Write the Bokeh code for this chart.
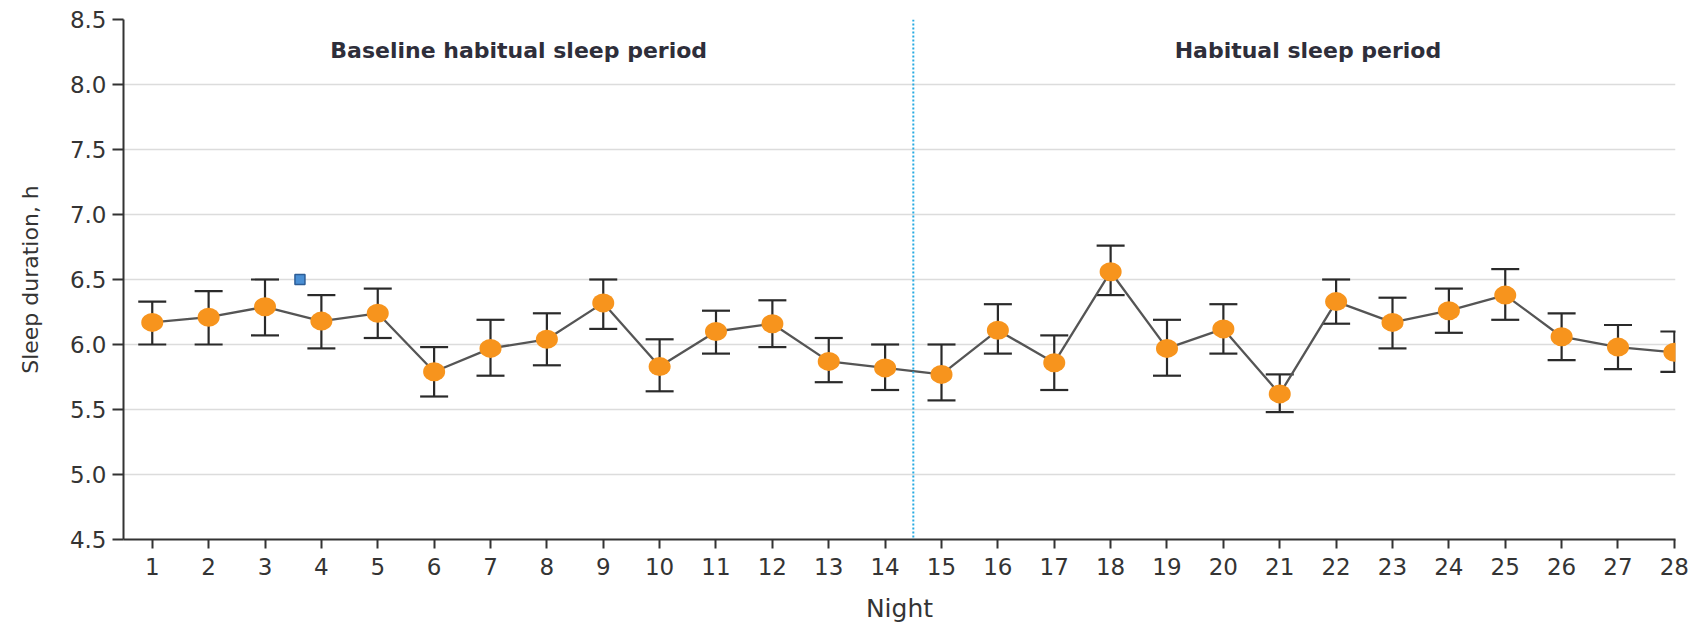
from bokeh.plotting import figure
from bokeh.models import (Whisker, TeeHead, ColumnDataSource, Span, FixedTicker,
                          Range1d, CustomJSTickFormatter)
from bokeh.core.properties import value
from bokeh.embed import file_html
from bokeh.resources import INLINE

# ---- data ----
nights = list(range(1, 29))
sleep_mean = [6.17, 6.21, 6.29, 6.18, 6.24, 5.79, 5.97, 6.04, 6.32, 5.83,
              6.10, 6.16, 5.87, 5.82, 5.77, 6.11, 5.86, 6.56, 5.97, 6.12,
              5.62, 6.33, 6.17, 6.26, 6.38, 6.06, 5.98, 5.94]
ci_lower = [6.00, 6.00, 6.07, 5.97, 6.05, 5.60, 5.76, 5.84, 6.12, 5.64,
            5.93, 5.98, 5.71, 5.65, 5.57, 5.93, 5.65, 6.38, 5.76, 5.93,
            5.48, 6.16, 5.97, 6.09, 6.19, 5.88, 5.81, 5.79]
ci_upper = [6.33, 6.41, 6.50, 6.38, 6.43, 5.98, 6.19, 6.24, 6.50, 6.04,
            6.26, 6.34, 6.05, 6.00, 6.00, 6.31, 6.07, 6.76, 6.19, 6.31,
            5.77, 6.50, 6.36, 6.43, 6.58, 6.24, 6.15, 6.10]
period_names = ["Baseline habitual sleep period", "Habitual sleep period"]
period_nights = [list(range(1, 15)), list(range(15, 29))]
stray_x = [3.62]
stray_y = [6.5]
y_ticks = [4.5, 5.0, 5.5, 6.0, 6.5, 7.0, 7.5, 8.0, 8.5]

FONT = "DejaVu Sans"
TXT = "#343434"

p = figure(width=1700, height=626, output_backend="svg", toolbar_location=None,
           x_range=Range1d(0.49, 28.02), y_range=Range1d(4.5, 8.5),
           min_border_left=123, min_border_right=25, min_border_top=19,
           min_border_bottom=87)
p.outline_line_color = None
p.xgrid.grid_line_color = None
p.ygrid.grid_line_color = "#dcdcdc"
p.ygrid.grid_line_width = 1.6
p.ygrid.ticker = FixedTicker(ticks=y_ticks)

p.xaxis.ticker = FixedTicker(ticks=nights)
p.yaxis.ticker = FixedTicker(ticks=y_ticks)
p.yaxis.formatter = CustomJSTickFormatter(code="return tick.toFixed(1);")

for ax in (p.xaxis[0], p.yaxis[0]):
    ax.axis_line_color = "#333333"
    ax.axis_line_width = 2
    ax.major_tick_line_color = "#333333"
    ax.major_tick_line_width = 2
    ax.minor_tick_line_color = None
    ax.major_tick_in = 0
    ax.major_label_text_font = FONT
    ax.major_label_text_font_size = "23px"
    ax.major_label_text_color = TXT
    ax.axis_label_text_font = FONT
    ax.axis_label_text_font_style = "normal"
    ax.axis_label_text_color = TXT

p.xaxis.axis_label_text_font_size = "25px"
p.yaxis.axis_label_text_font_size = "22px"
p.xaxis.major_tick_out = 9
p.yaxis.major_tick_out = 11
p.xaxis.major_label_standoff = 9
p.yaxis.major_label_standoff = 6
p.xaxis.axis_label = "Night"
p.yaxis.axis_label = "Sleep duration, h"
p.xaxis.axis_label_standoff = 16
p.yaxis.axis_label_standoff = 24

src = ColumnDataSource(dict(x=nights, y=sleep_mean, lo=ci_lower, hi=ci_upper))

p.line("x", "y", source=src, line_color="#555555", line_width=2.3)
wh = Whisker(base="x", lower="lo", upper="hi", source=src,
             line_color="#2a2a2a", line_width=2.2,
             upper_head=TeeHead(size=28, line_color="#2a2a2a", line_width=2.2),
             lower_head=TeeHead(size=28, line_color="#2a2a2a", line_width=2.2))
wh.level = "underlay"
p.add_layout(wh)
p.ellipse("x", "y", source=src, width=22, height=19, width_units="screen",
          height_units="screen", fill_color="#f7941d", line_color=None)

divider = (max(period_nights[0]) + min(period_nights[1])) / 2
p.add_layout(Span(location=divider, dimension="height", line_color="#29abe2",
                  line_width=2, line_dash="2 2"))

centers = [sum(n) / len(n) for n in period_nights]
p.text(x=centers, y=[8.26, 8.26], text=period_names, text_font=value(FONT),
       text_font_size="22px", text_font_style="bold", text_color="#2e2e3a",
       text_align="center", text_baseline="alphabetic")

p.scatter(stray_x, stray_y, marker="square", size=10, fill_color="#4a8fd4",
          line_color="#2c5d96", line_width=1.5)

open("out.html", "w").write(file_html(p, INLINE))
